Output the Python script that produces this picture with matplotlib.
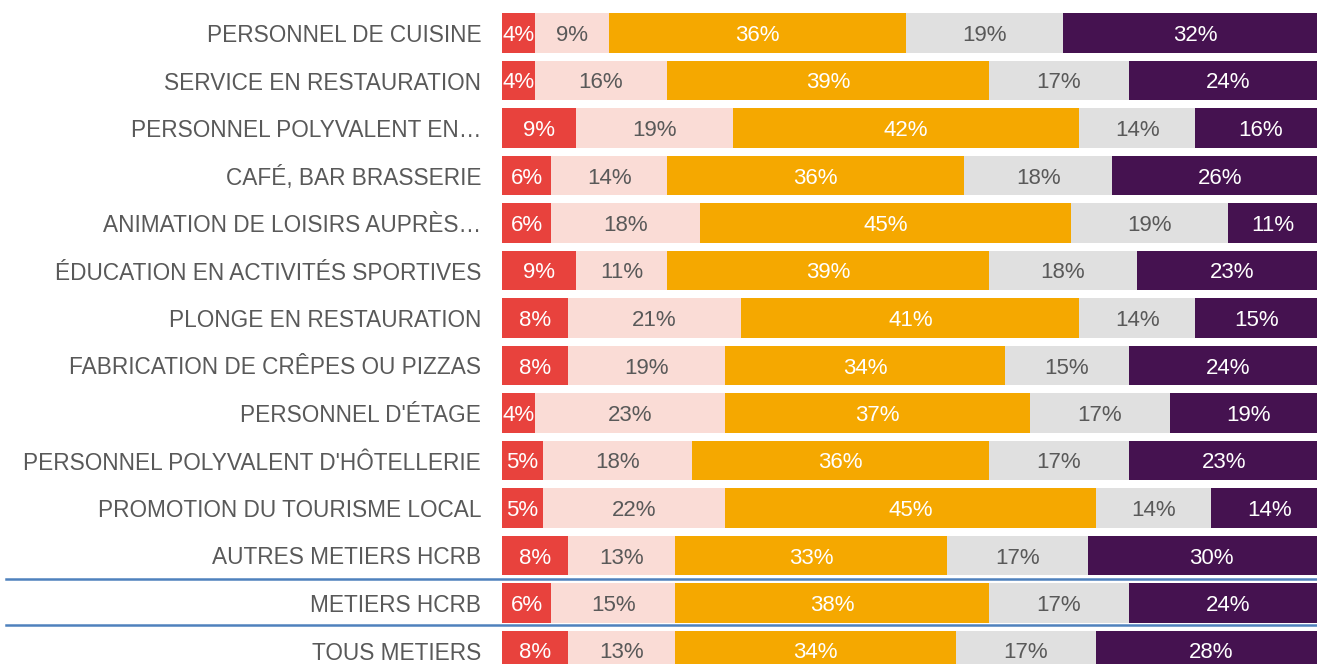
import matplotlib

matplotlib.use("Agg")
import matplotlib.pyplot as plt

categories = [
    "PERSONNEL DE CUISINE",
    "SERVICE EN RESTAURATION",
    "PERSONNEL POLYVALENT EN…",
    "CAFÉ, BAR BRASSERIE",
    "ANIMATION DE LOISIRS AUPRÈS…",
    "ÉDUCATION EN ACTIVITÉS SPORTIVES",
    "PLONGE EN RESTAURATION",
    "FABRICATION DE CRÊPES OU PIZZAS",
    "PERSONNEL D'ÉTAGE",
    "PERSONNEL POLYVALENT D'HÔTELLERIE",
    "PROMOTION DU TOURISME LOCAL",
    "AUTRES METIERS HCRB",
    "METIERS HCRB",
    "TOUS METIERS",
]

s1 = [4, 4, 9, 6, 6, 9, 8, 8, 4, 5, 5, 8, 6, 8]
s2 = [9, 16, 19, 14, 18, 11, 21, 19, 23, 18, 22, 13, 15, 13]
s3 = [36, 39, 42, 36, 45, 39, 41, 34, 37, 36, 45, 33, 38, 34]
s4 = [19, 17, 14, 18, 19, 18, 14, 15, 17, 17, 14, 17, 17, 17]
s5 = [32, 24, 16, 26, 11, 23, 15, 24, 19, 23, 14, 30, 24, 28]

series = [s1, s2, s3, s4, s5]
colors = ["#e8423d", "#fadcd6", "#f5a800", "#e0e0e0", "#451250"]
text_colors = ["white", "#595959", "white", "#595959", "white"]

plt.rcParams["font.family"] = ["Liberation Sans", "DejaVu Sans"]

fig = plt.figure(figsize=(13.17, 6.64), dpi=100)
ax = fig.add_axes([502 / 1317, 0, 1 - 502 / 1317, 1])

y = list(range(len(categories)))
left = [0] * len(categories)
for vals, col, tcol in zip(series, colors, text_colors):
    ax.barh(y, vals, left=left, height=0.83, color=col, edgecolor="none")
    for i, v in enumerate(vals):
        ax.text(left[i] + v / 2, i, f"{v}%", ha="center", va="center_baseline",
                color=tcol, fontsize=16)
    left = [l + v for l, v in zip(left, vals)]

ax.set_xlim(0, 98.8)
ax.set_ylim((664 - 33) / 47.5, -33 / 47.5)
ax.set_yticks(y)
ax.set_yticklabels(categories, fontsize=16.3, color="#595959")
ax.tick_params(axis="y", length=0, pad=15)
ax.set_xticks([])
for sp in ax.spines.values():
    sp.set_visible(False)

# lignes de séparation
for ypx in (578.5, 624.5):
    yf = 1 - ypx / 664
    fig.add_artist(plt.Line2D([6 / 1317, 1], [yf, yf], color="#4f81bd", lw=1.8))

fig.savefig("out.png", dpi=100)
